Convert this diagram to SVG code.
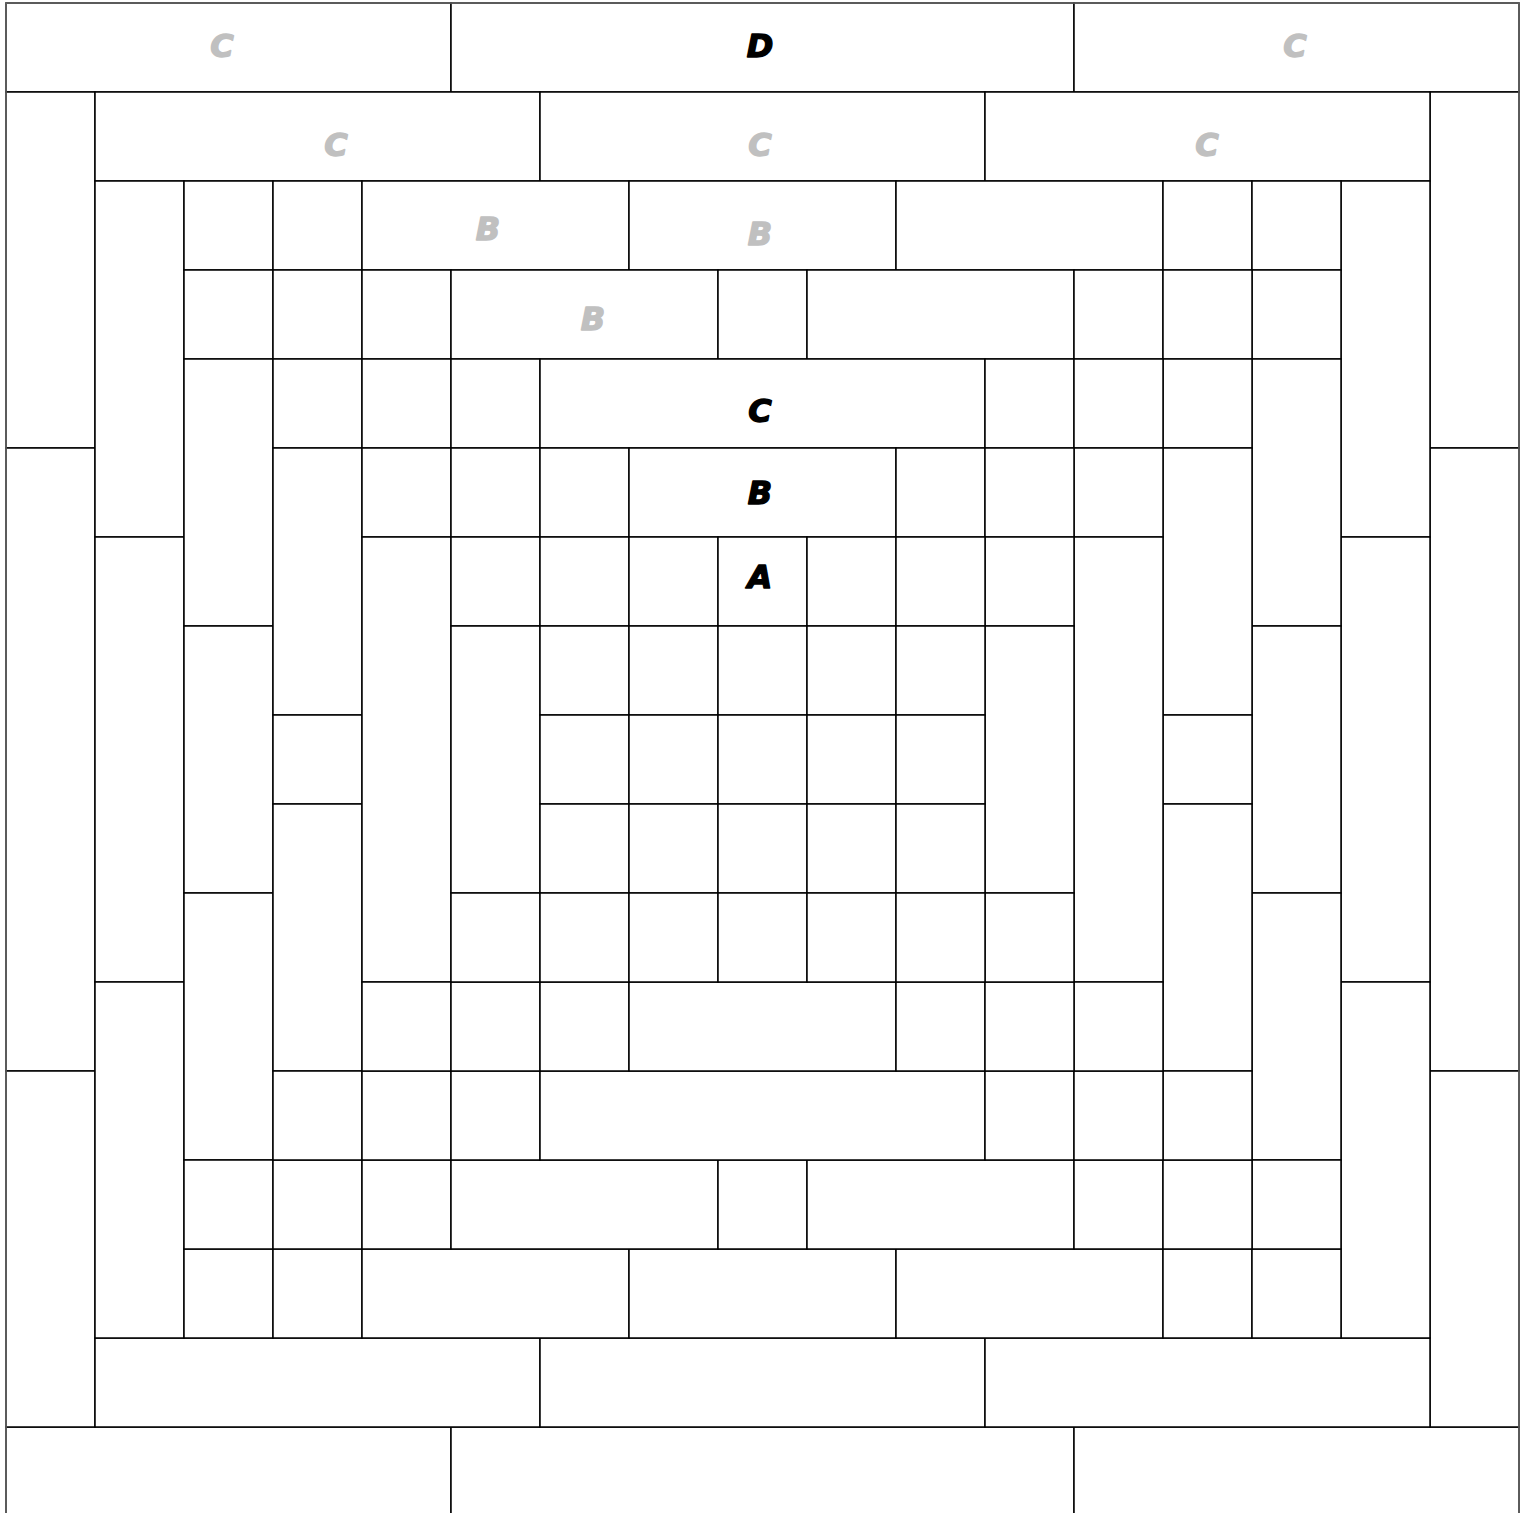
<svg xmlns="http://www.w3.org/2000/svg" width="1524" height="1513" viewBox="0 0 1524 1513">
<style>
rect.c{fill:#fff;stroke:#000;stroke-width:1.5}
text{font-family:"DejaVu Sans","Liberation Sans",sans-serif;font-weight:bold;font-style:italic;font-size:32px;text-anchor:middle;stroke-width:1.4;stroke-linejoin:round}
.k{fill:#000;stroke:#000}
.g{fill:#c0c0c0;stroke:#c0c0c0}
</style>
<rect width="1524" height="1513" fill="#fff"/>
<g id="outer">
<g id="o1"><rect class="c" x="6" y="3" width="445" height="89"/><text class="g" x="222" y="57">C</text></g>
<g id="o2"><rect class="c" x="451" y="3" width="623" height="89"/><text class="k" x="760" y="57">D</text></g>
<g id="o3"><rect class="c" x="1074" y="3" width="445" height="89"/><text class="g" x="1295" y="57">C</text></g>
<g id="o4"><rect class="c" x="6" y="1427" width="445" height="89"/></g>
<g id="o5"><rect class="c" x="451" y="1427" width="623" height="89"/></g>
<g id="o6"><rect class="c" x="1074" y="1427" width="445" height="89"/></g>
<g id="o7"><rect class="c" x="6" y="92" width="89" height="356"/></g>
<g id="o8"><rect class="c" x="6" y="448" width="89" height="623"/></g>
<g id="o9"><rect class="c" x="6" y="1071" width="89" height="356"/></g>
<g id="o10"><rect class="c" x="1430" y="92" width="89" height="356"/></g>
<g id="o11"><rect class="c" x="1430" y="448" width="89" height="623"/></g>
<g id="o12"><rect class="c" x="1430" y="1071" width="89" height="356"/></g>
</g>
<g id="ring1">
<g id="r1a"><rect class="c" x="95" y="92" width="445" height="89"/><text class="g" x="336" y="156">C</text></g>
<g id="r1b"><rect class="c" x="540" y="92" width="445" height="89"/><text class="g" x="760" y="156">C</text></g>
<g id="r1c"><rect class="c" x="985" y="92" width="445" height="89"/><text class="g" x="1207" y="156">C</text></g>
<g id="r1d"><rect class="c" x="95" y="1338" width="445" height="89"/></g>
<g id="r1e"><rect class="c" x="540" y="1338" width="445" height="89"/></g>
<g id="r1f"><rect class="c" x="985" y="1338" width="445" height="89"/></g>
<g id="r1g"><rect class="c" x="95" y="181" width="89" height="356"/></g>
<g id="r1h"><rect class="c" x="95" y="537" width="89" height="445"/></g>
<g id="r1i"><rect class="c" x="95" y="982" width="89" height="356"/></g>
<g id="r1j"><rect class="c" x="1341" y="181" width="89" height="356"/></g>
<g id="r1k"><rect class="c" x="1341" y="537" width="89" height="445"/></g>
<g id="r1l"><rect class="c" x="1341" y="982" width="89" height="356"/></g>
</g>
<g id="ring2">
<g id="r2a"><rect class="c" x="184" y="181" width="89" height="89"/></g>
<g id="r2b"><rect class="c" x="273" y="181" width="89" height="89"/></g>
<g id="r2c"><rect class="c" x="362" y="181" width="267" height="89"/><text class="g" x="488" y="240">B</text></g>
<g id="r2d"><rect class="c" x="629" y="181" width="267" height="89"/><text class="g" x="760" y="245">B</text></g>
<g id="r2e"><rect class="c" x="896" y="181" width="267" height="89"/></g>
<g id="r2f"><rect class="c" x="1163" y="181" width="89" height="89"/></g>
<g id="r2g"><rect class="c" x="1252" y="181" width="89" height="89"/></g>
<g id="r2h"><rect class="c" x="184" y="1249" width="89" height="89"/></g>
<g id="r2i"><rect class="c" x="273" y="1249" width="89" height="89"/></g>
<g id="r2j"><rect class="c" x="362" y="1249" width="267" height="89"/></g>
<g id="r2k"><rect class="c" x="629" y="1249" width="267" height="89"/></g>
<g id="r2l"><rect class="c" x="896" y="1249" width="267" height="89"/></g>
<g id="r2m"><rect class="c" x="1163" y="1249" width="89" height="89"/></g>
<g id="r2n"><rect class="c" x="1252" y="1249" width="89" height="89"/></g>
<g id="r2o"><rect class="c" x="184" y="270" width="89" height="89"/></g>
<g id="r2p"><rect class="c" x="184" y="359" width="89" height="267"/></g>
<g id="r2q"><rect class="c" x="184" y="626" width="89" height="267"/></g>
<g id="r2r"><rect class="c" x="184" y="893" width="89" height="267"/></g>
<g id="r2s"><rect class="c" x="184" y="1160" width="89" height="89"/></g>
<g id="r2t"><rect class="c" x="1252" y="270" width="89" height="89"/></g>
<g id="r2u"><rect class="c" x="1252" y="359" width="89" height="267"/></g>
<g id="r2v"><rect class="c" x="1252" y="626" width="89" height="267"/></g>
<g id="r2w"><rect class="c" x="1252" y="893" width="89" height="267"/></g>
<g id="r2x"><rect class="c" x="1252" y="1160" width="89" height="89"/></g>
</g>
<g id="ring3">
<g id="r3a"><rect class="c" x="273" y="270" width="89" height="89"/></g>
<g id="r3b"><rect class="c" x="362" y="270" width="89" height="89"/></g>
<g id="r3c"><rect class="c" x="451" y="270" width="267" height="89"/><text class="g" x="593" y="330">B</text></g>
<g id="r3d"><rect class="c" x="718" y="270" width="89" height="89"/></g>
<g id="r3e"><rect class="c" x="807" y="270" width="267" height="89"/></g>
<g id="r3f"><rect class="c" x="1074" y="270" width="89" height="89"/></g>
<g id="r3g"><rect class="c" x="1163" y="270" width="89" height="89"/></g>
<g id="r3h"><rect class="c" x="273" y="1160" width="89" height="89"/></g>
<g id="r3i"><rect class="c" x="362" y="1160" width="89" height="89"/></g>
<g id="r3j"><rect class="c" x="451" y="1160" width="267" height="89"/></g>
<g id="r3k"><rect class="c" x="718" y="1160" width="89" height="89"/></g>
<g id="r3l"><rect class="c" x="807" y="1160" width="267" height="89"/></g>
<g id="r3m"><rect class="c" x="1074" y="1160" width="89" height="89"/></g>
<g id="r3n"><rect class="c" x="1163" y="1160" width="89" height="89"/></g>
<g id="r3o"><rect class="c" x="273" y="359" width="89" height="89"/></g>
<g id="r3p"><rect class="c" x="273" y="448" width="89" height="267"/></g>
<g id="r3q"><rect class="c" x="273" y="715" width="89" height="89"/></g>
<g id="r3r"><rect class="c" x="273" y="804" width="89" height="267"/></g>
<g id="r3s"><rect class="c" x="273" y="1071" width="89" height="89"/></g>
<g id="r3t"><rect class="c" x="1163" y="359" width="89" height="89"/></g>
<g id="r3u"><rect class="c" x="1163" y="448" width="89" height="267"/></g>
<g id="r3v"><rect class="c" x="1163" y="715" width="89" height="89"/></g>
<g id="r3w"><rect class="c" x="1163" y="804" width="89" height="267"/></g>
<g id="r3x"><rect class="c" x="1163" y="1071" width="89" height="89"/></g>
</g>
<g id="ring4">
<g id="r4a"><rect class="c" x="362" y="359" width="89" height="89"/></g>
<g id="r4b"><rect class="c" x="451" y="359" width="89" height="89"/></g>
<g id="r4c"><rect class="c" x="540" y="359" width="445" height="89"/><text class="k" x="760" y="422">C</text></g>
<g id="r4d"><rect class="c" x="985" y="359" width="89" height="89"/></g>
<g id="r4e"><rect class="c" x="1074" y="359" width="89" height="89"/></g>
<g id="r4f"><rect class="c" x="362" y="1071" width="89" height="89"/></g>
<g id="r4g"><rect class="c" x="451" y="1071" width="89" height="89"/></g>
<g id="r4h"><rect class="c" x="540" y="1071" width="445" height="89"/></g>
<g id="r4i"><rect class="c" x="985" y="1071" width="89" height="89"/></g>
<g id="r4j"><rect class="c" x="1074" y="1071" width="89" height="89"/></g>
<g id="r4k"><rect class="c" x="362" y="448" width="89" height="89"/></g>
<g id="r4l"><rect class="c" x="362" y="537" width="89" height="445"/></g>
<g id="r4m"><rect class="c" x="362" y="982" width="89" height="89"/></g>
<g id="r4n"><rect class="c" x="1074" y="448" width="89" height="89"/></g>
<g id="r4o"><rect class="c" x="1074" y="537" width="89" height="445"/></g>
<g id="r4p"><rect class="c" x="1074" y="982" width="89" height="89"/></g>
</g>
<g id="ring5">
<g id="r5a"><rect class="c" x="451" y="448" width="89" height="89"/></g>
<g id="r5b"><rect class="c" x="540" y="448" width="89" height="89"/></g>
<g id="r5c"><rect class="c" x="629" y="448" width="267" height="89"/><text class="k" x="760" y="504">B</text></g>
<g id="r5d"><rect class="c" x="896" y="448" width="89" height="89"/></g>
<g id="r5e"><rect class="c" x="985" y="448" width="89" height="89"/></g>
<g id="r5f"><rect class="c" x="451" y="982" width="89" height="89"/></g>
<g id="r5g"><rect class="c" x="540" y="982" width="89" height="89"/></g>
<g id="r5h"><rect class="c" x="629" y="982" width="267" height="89"/></g>
<g id="r5i"><rect class="c" x="896" y="982" width="89" height="89"/></g>
<g id="r5j"><rect class="c" x="985" y="982" width="89" height="89"/></g>
<g id="r5k"><rect class="c" x="451" y="537" width="89" height="89"/></g>
<g id="r5l"><rect class="c" x="451" y="626" width="89" height="267"/></g>
<g id="r5m"><rect class="c" x="451" y="893" width="89" height="89"/></g>
<g id="r5n"><rect class="c" x="985" y="537" width="89" height="89"/></g>
<g id="r5o"><rect class="c" x="985" y="626" width="89" height="267"/></g>
<g id="r5p"><rect class="c" x="985" y="893" width="89" height="89"/></g>
</g>
<g id="inner">
<g id="i11"><rect class="c" x="540" y="537" width="89" height="89"/></g>
<g id="i12"><rect class="c" x="629" y="537" width="89" height="89"/></g>
<g id="i13"><rect class="c" x="718" y="537" width="89" height="89"/><text class="k" x="760" y="588">A</text></g>
<g id="i14"><rect class="c" x="807" y="537" width="89" height="89"/></g>
<g id="i15"><rect class="c" x="896" y="537" width="89" height="89"/></g>
<g id="i21"><rect class="c" x="540" y="626" width="89" height="89"/></g>
<g id="i22"><rect class="c" x="629" y="626" width="89" height="89"/></g>
<g id="i23"><rect class="c" x="718" y="626" width="89" height="89"/></g>
<g id="i24"><rect class="c" x="807" y="626" width="89" height="89"/></g>
<g id="i25"><rect class="c" x="896" y="626" width="89" height="89"/></g>
<g id="i31"><rect class="c" x="540" y="715" width="89" height="89"/></g>
<g id="i32"><rect class="c" x="629" y="715" width="89" height="89"/></g>
<g id="i33"><rect class="c" x="718" y="715" width="89" height="89"/></g>
<g id="i34"><rect class="c" x="807" y="715" width="89" height="89"/></g>
<g id="i35"><rect class="c" x="896" y="715" width="89" height="89"/></g>
<g id="i41"><rect class="c" x="540" y="804" width="89" height="89"/></g>
<g id="i42"><rect class="c" x="629" y="804" width="89" height="89"/></g>
<g id="i43"><rect class="c" x="718" y="804" width="89" height="89"/></g>
<g id="i44"><rect class="c" x="807" y="804" width="89" height="89"/></g>
<g id="i45"><rect class="c" x="896" y="804" width="89" height="89"/></g>
<g id="i51"><rect class="c" x="540" y="893" width="89" height="89"/></g>
<g id="i52"><rect class="c" x="629" y="893" width="89" height="89"/></g>
<g id="i53"><rect class="c" x="718" y="893" width="89" height="89"/></g>
<g id="i54"><rect class="c" x="807" y="893" width="89" height="89"/></g>
<g id="i55"><rect class="c" x="896" y="893" width="89" height="89"/></g>
</g>
<g id="connectors"/>
<rect x="6" y="3" width="1513" height="1513" fill="none" stroke="#666" stroke-width="1.5"/>
</svg>
